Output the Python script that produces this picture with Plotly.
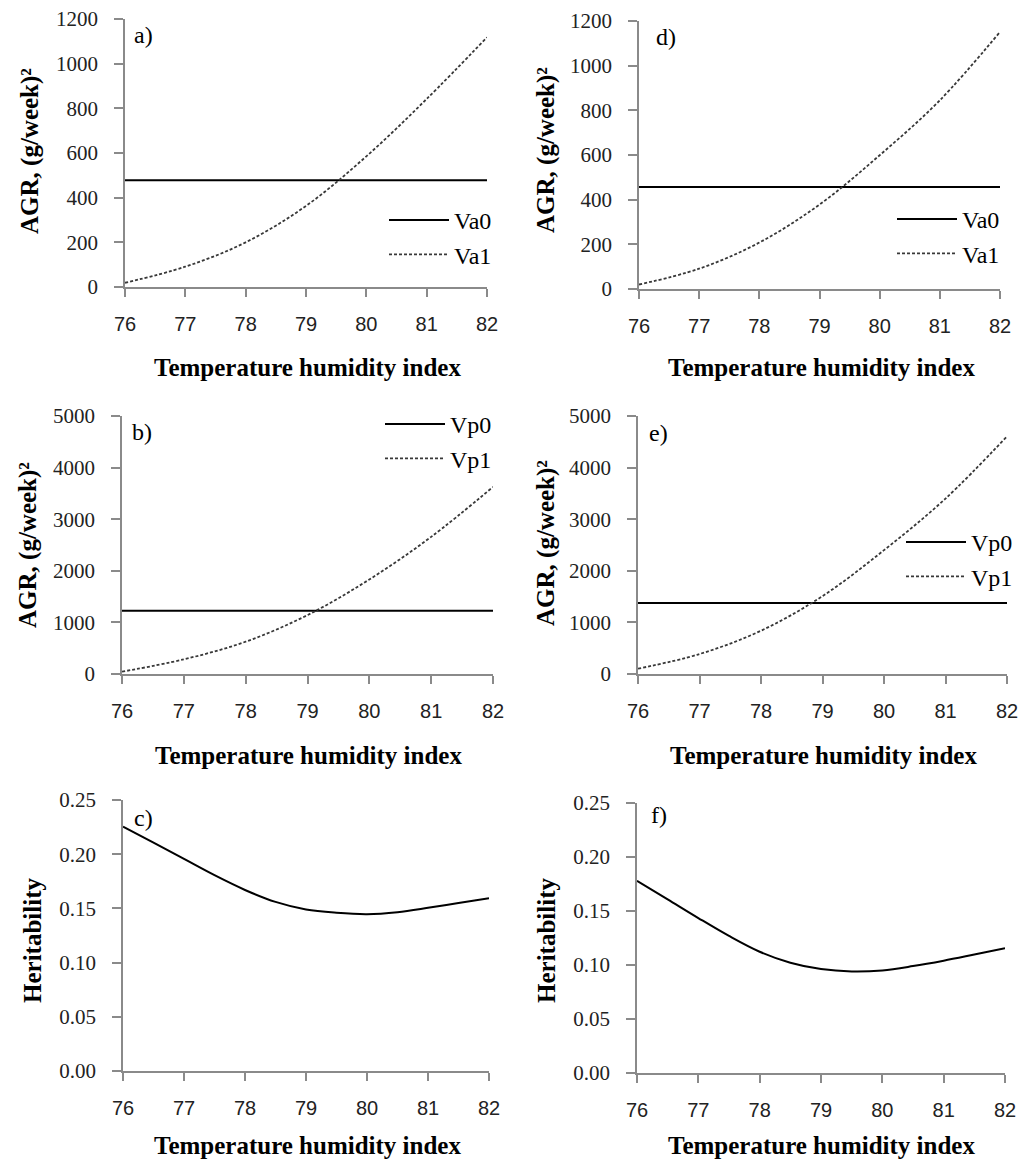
import plotly.graph_objects as go

W, H = 1032, 1160

# ---------------- data ----------------
thi = [76, 77, 78, 79, 80, 81, 82]
thi_ticks = [76, 77, 78, 79, 80, 81, 82]

va0_a = [478, 478, 478, 478, 478, 478, 478]
va1_a = [19, 91, 200, 363, 585, 842, 1118]

vp0_b = [1225, 1225, 1225, 1225, 1225, 1225, 1225]
vp1_b = [45, 284, 626, 1142, 1832, 2658, 3626]

thi_h = [76, 76.5, 77, 77.5, 78, 78.5, 79, 79.5, 80, 80.5, 81, 81.5, 82]
h2_c = [0.2254, 0.2106, 0.1956, 0.1806, 0.1670, 0.1560, 0.1490, 0.1460, 0.1447, 0.1465, 0.1505, 0.1550, 0.1593]

va0_d = [457, 457, 457, 457, 457, 457, 457]
va1_d = [20, 91, 208, 378, 599, 845, 1151]

vp0_e = [1374, 1374, 1374, 1374, 1374, 1374, 1374]
vp1_e = [103, 387, 839, 1510, 2400, 3400, 4606]

h2_f = [0.1780, 0.1608, 0.1435, 0.1269, 0.1123, 0.1021, 0.0962, 0.0940, 0.0950, 0.0990, 0.1040, 0.1097, 0.1155]

agr_ticks_small = [0, 200, 400, 600, 800, 1000, 1200]
agr_ticks_big = [0, 1000, 2000, 3000, 4000, 5000]
h2_ticks = [0, 0.05, 0.10, 0.15, 0.20, 0.25]

panel_labels = ["a)", "b)", "c)", "d)", "e)", "f)"]
x_title = "Temperature humidity index"
y_title_agr = "AGR, (g/week)²"
y_title_h2 = "Heritability"

# ---------------- layout geometry (pixels) ----------------
# (x0, x1, ytop, ybottom)
boxes = {
    "a": (125, 487, 19, 287),
    "b": (122, 493, 416, 674),
    "c": (123, 489, 800, 1071),
    "d": (639, 1000, 21, 289),
    "e": (638, 1007, 416, 674),
    "f": (637, 1005, 803, 1073),
}
order = ["a", "b", "c", "d", "e", "f"]

SERIF = "Liberation Serif"
SANS = "Liberation Sans"
AXIS_COL = "#8a8a8a"

def px(x):
    return x / W

def py(y):
    return 1 - y / H

fig = go.Figure()

solid = dict(color="black", width=2)
dashed = dict(color="#383838", width=1.8, dash="3px,2px")

def add(idx, x, y, name, line, legend=None, showlegend=False, group=None):
    ax = "" if idx == 1 else str(idx)
    fig.add_trace(go.Scatter(
        x=x, y=y, mode="lines", name=name, line=line, line_shape="spline",
        xaxis="x" + ax, yaxis="y" + ax, showlegend=showlegend,
        legend=legend if legend else "legend", legendgroup=group,
        hoverinfo="skip"))

# a -> axis 1, b -> 2, c -> 3, d -> 4, e -> 5, f -> 6
add(1, thi, va0_a, "Va0", solid, "legend", True, "a0")
add(1, thi, va1_a, "Va1", dashed, "legend", True, "a1")
add(2, thi, vp0_b, "Vp0", solid, "legend2", True, "b0")
add(2, thi, vp1_b, "Vp1", dashed, "legend2", True, "b1")
add(3, thi_h, h2_c, "h2", solid)
add(4, thi, va0_d, "Va0", solid, "legend3", True, "d0")
add(4, thi, va1_d, "Va1", dashed, "legend3", True, "d1")
add(5, thi, vp0_e, "Vp0", solid, "legend4", True, "e0")
add(5, thi, vp1_e, "Vp1", dashed, "legend4", True, "e1")
add(6, thi_h, h2_f, "h2", solid)

layout = dict(
    width=W, height=H, margin=dict(l=0, r=0, t=0, b=0, autoexpand=False),
    paper_bgcolor="white", plot_bgcolor="white",
    showlegend=True,
)

yinfo = {
    "a": ([0, 1200], agr_ticks_small, None),
    "b": ([0, 5000], agr_ticks_big, None),
    "c": ([0, 0.25], h2_ticks, ".2f"),
    "d": ([0, 1200], agr_ticks_small, None),
    "e": ([0, 5000], agr_ticks_big, None),
    "f": ([0, 0.25], h2_ticks, ".2f"),
}

annotations = []
for i, k in enumerate(order, start=1):
    x0, x1, yt, yb = boxes[k]
    sfx = "" if i == 1 else str(i)
    rng, tv, fmt = yinfo[k]
    layout["xaxis" + sfx] = dict(
        domain=[px(x0), px(x1)], range=[76, 82], anchor="y" + sfx,
        tickvals=thi_ticks, ticks="outside", ticklen=8, tickwidth=1.5,
        tickcolor=AXIS_COL, showline=True, linecolor=AXIS_COL, linewidth=1.5,
        showgrid=False, zeroline=False, ticklabelstandoff=10, automargin=False,
        tickfont=dict(family=SANS, size=20, color="#222222"),
    )
    ya = dict(
        domain=[py(yb), py(yt)], range=rng, anchor="x" + sfx,
        tickvals=tv, ticks="outside", ticklen=9, tickwidth=1.5,
        tickcolor=AXIS_COL, showline=True, linecolor=AXIS_COL, linewidth=1.5,
        showgrid=False, zeroline=False, ticklabelstandoff=12, automargin=False,
        tickfont=dict(family=SERIF, size=21, color="#222222"),
    )
    if fmt:
        ya["tickformat"] = fmt
    layout["yaxis" + sfx] = ya

# axis titles and panel labels
xt = {"a": (307, 368), "b": (308, 755), "c": (307, 1145),
      "d": (821, 368), "e": (823, 755), "f": (821, 1145)}
yt_pos = {"a": (30, 151), "b": (28, 545), "c": (32, 941),
          "d": (546, 150), "e": (546, 543), "f": (546, 941)}
pl = {"a": (143, 35), "b": (142, 432), "c": (143, 818),
      "d": (666, 37), "e": (658, 433), "f": (659, 815)}
for i, k in enumerate(order):
    annotations.append(dict(
        text="<b>" + x_title + "</b>", x=px(xt[k][0]), y=py(xt[k][1]),
        xref="paper", yref="paper", showarrow=False, xanchor="center", yanchor="middle",
        font=dict(family=SERIF, size=25, color="black")))
    ytxt = y_title_h2 if k in ("c", "f") else y_title_agr
    annotations.append(dict(
        text="<b>" + ytxt + "</b>", x=px(yt_pos[k][0]), y=py(yt_pos[k][1]),
        xref="paper", yref="paper", showarrow=False, textangle=-90,
        xanchor="center", yanchor="middle",
        font=dict(family=SERIF, size=25, color="black")))
    annotations.append(dict(
        text=panel_labels[i], x=px(pl[k][0]), y=py(pl[k][1]),
        xref="paper", yref="paper", showarrow=False, xanchor="center", yanchor="middle",
        font=dict(family=SERIF, size=24, color="black")))
layout["annotations"] = annotations

leg_font = dict(family=SERIF, size=24, color="black")
def legend_at(xr, ytop):
    return dict(x=px(xr), xanchor="right", y=py(ytop), yanchor="top",
                font=leg_font, bgcolor="rgba(0,0,0,0)", borderwidth=0,
                tracegroupgap=8, traceorder="normal", itemwidth=60)

layout["legend"] = legend_at(497, 198)
layout["legend2"] = legend_at(497, 402)
layout["legend3"] = legend_at(1005, 197)
layout["legend4"] = legend_at(1018, 520)

fig.update_layout(**layout)
fig.write_html("out.html", config={"displayModeBar": False},
               post_script="document.body.style.margin='0px';")
